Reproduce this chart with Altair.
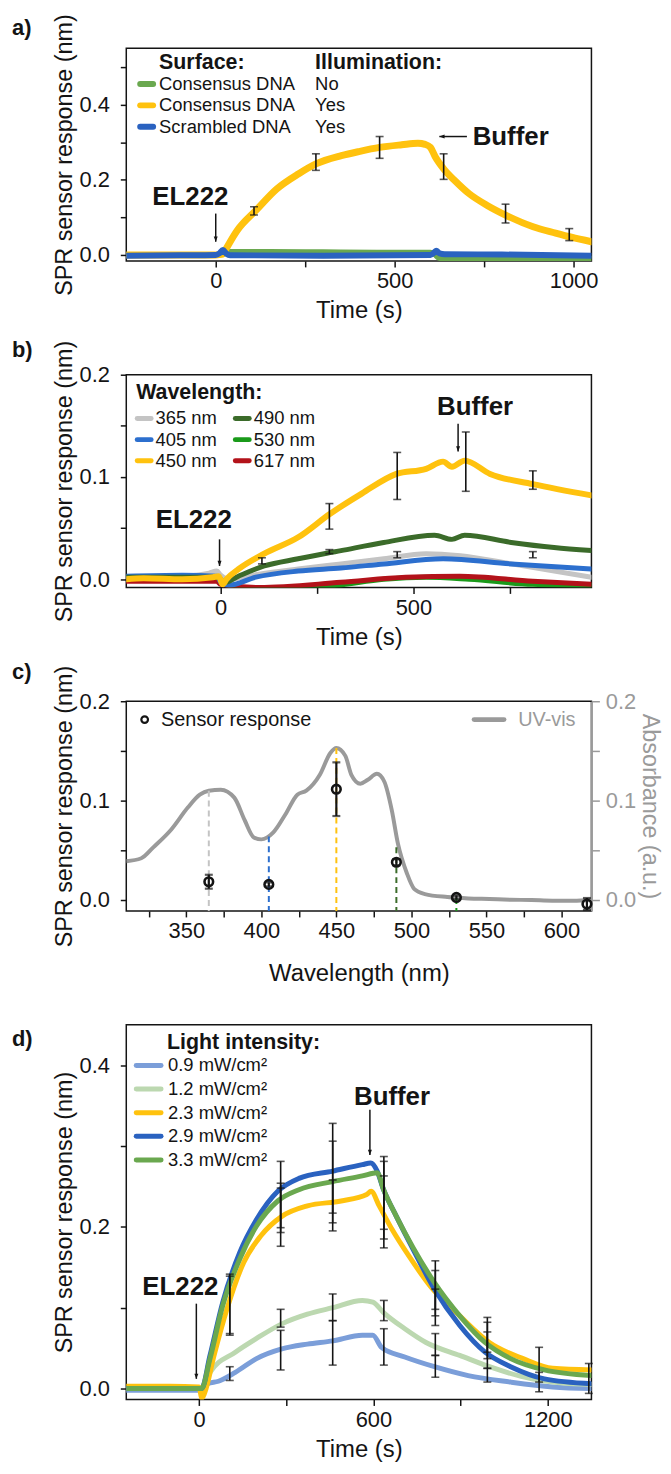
import altair as alt
import pandas as pd

FONT = "Liberation Sans"
INK = "#141414"
GREY = "#9a9a9a"

# ================= Panel a : surface / illumination =================
a_names = ["Consensus DNA", "Consensus DNA", "Scrambled DNA"]
a_illum = ["No", "Yes", "Yes"]
a_colors = ["#6aa84f", "#ffc20e", "#2a62c0"]

a_no_t = [-250, -100, 0, 20, 28, 150, 300, 450, 600, 612, 625, 800, 1050]
a_no_v = [0.0, 0.0, 0.0, 0.002, 0.008, 0.008, 0.007, 0.006, 0.006, 0.002, -0.008, -0.009, -0.01]

a_yes_t = [-250, -100, 0, 20, 25, 60, 113, 170, 232, 280, 351, 400, 458, 520, 565, 585,
           600, 613, 637, 670, 708, 760, 810, 887, 950, 994, 1050]
a_yes_v = [0.0, 0.0, 0.0, 0.002, 0.01, 0.065, 0.119, 0.175, 0.216, 0.242, 0.264, 0.275, 0.286,
           0.293, 0.297, 0.294, 0.286, 0.262, 0.229, 0.196, 0.163, 0.131, 0.106, 0.075, 0.058,
           0.047, 0.035]

a_scr_t = [-250, -100, 0, 10, 20, 30, 40, 300, 600, 608, 616, 626, 640, 800, 1050]
a_scr_v = [-0.002, -0.001, 0.0, 0.004, 0.013, 0.003, -0.001, -0.002, 0.0, 0.004, 0.011, 0.004,
           0.002, 0.001, -0.002]

a_err_t = [107, 280, 458, 637, 810, 988]
a_err_lo = [0.106, 0.225, 0.257, 0.201, 0.085, 0.038]
a_err_hi = [0.128, 0.269, 0.315, 0.269, 0.135, 0.070]

# ================= Panel b : wavelength =================
b_names = ["365 nm", "405 nm", "450 nm", "490 nm", "530 nm", "617 nm"]
b_colors = ["#c4c4c4", "#2c6fce", "#ffc20e", "#3b6b2a", "#1a9a1a", "#b3121a"]

b365_t = [-245, -100, -30, -10, 0, 20, 100, 201, 312, 423, 533, 622, 754, 962]
b365_v = [0.002, 0.003, 0.006, 0.008, 0.004, 0.0, 0.005, 0.010, 0.015, 0.020, 0.025, 0.023, 0.015, 0.002]
b405_t = [-245, -100, -10, 0, 20, 91, 201, 312, 423, 577, 754, 962]
b405_v = [0.003, 0.004, 0.003, -0.003, -0.006, 0.002, 0.008, 0.011, 0.015, 0.020, 0.015, 0.010]
b450_t = [-245, -200, -100, -20, -5, 5, 15, 46, 113, 201, 284, 367, 456, 533, 577, 600, 633, 699, 810, 962]
b450_v = [0.0, 0.001, 0.0, 0.002, 0.003, -0.005, 0.0, 0.0098, 0.025, 0.041, 0.064, 0.084, 0.103,
          0.108, 0.115, 0.110, 0.116, 0.103, 0.093, 0.082]
b490_t = [-245, -10, 0, 10, 46, 113, 201, 312, 423, 555, 600, 633, 754, 865, 962]
b490_v = [0.002, 0.002, 0.0, -0.003, 0.003, 0.013, 0.020, 0.028, 0.036, 0.043, 0.039, 0.043, 0.036, 0.031, 0.028]
b530_t = [-245, -10, 0, 100, 200, 300, 423, 533, 645, 810, 962]
b530_v = [0.0, 0.0, -0.004, -0.009, -0.009, -0.006, 0.0, 0.002, 0.0, -0.005, -0.006]
b617_t = [-245, -10, 0, 100, 312, 480, 620, 810, 962]
b617_v = [-0.002, -0.002, -0.005, -0.008, -0.003, 0.002, 0.003, -0.002, -0.005]

b_err_t = [282, 458, 636, 810, 107, 282, 458, 810]
b_err_lo = [0.049, 0.078, 0.086, 0.088, 0.015, 0.025, 0.021, 0.021]
b_err_hi = [0.074, 0.124, 0.144, 0.106, 0.021, 0.029, 0.027, 0.027]

# ================= Panel c : action spectrum =================
uv_wl = [310, 320, 328, 340, 351, 359, 365, 373, 382, 389, 395, 400, 408, 416, 424, 430, 439,
         446, 450, 456, 460, 466, 471, 477, 482, 487, 491, 497, 502, 509, 524, 538, 552, 566,
         580, 594, 608, 620]
uv_abs = [0.039, 0.042, 0.053, 0.071, 0.093, 0.106, 0.110, 0.111, 0.103, 0.080, 0.063, 0.061,
          0.068, 0.086, 0.106, 0.110, 0.126, 0.148, 0.153, 0.145, 0.126, 0.117, 0.121, 0.127,
          0.119, 0.090, 0.057, 0.027, 0.011, 0.006, 0.003, 0.0016, 0.001, 0.0003, 0.0, -0.0007,
          -0.0007, 0.0]
s_wl = [365, 405, 450, 490, 530, 617]
s_val = [0.0184, 0.0157, 0.1115, 0.038, 0.0026, -0.004]
s_err = [0.007, 0.002, 0.027, 0.003, 0.002, 0.006]
drop_top = [0.110, 0.064, 0.153, 0.053, 0.002, -0.002]
s_colors = ["#c4c4c4", "#2c6fce", "#ffc20e", "#3b6b2a", "#1a9a1a", "#c0141c"]

# ================= Panel d : light intensity =================
d_names = ["0.9 mW/cm²", "1.2 mW/cm²", "2.3 mW/cm²", "2.9 mW/cm²", "3.3 mW/cm²"]
d_colors = ["#7b9ed9", "#bcd8b0", "#ffc20e", "#2a62c0", "#6aa84f"]

d09_t = [-250, 0, 10, 30, 67, 125, 198, 285, 373, 460, 562, 598, 628, 708, 810, 926, 1072, 1217, 1350]
d09_v = [-0.002, -0.002, -0.002, 0.006, 0.009, 0.020, 0.037, 0.049, 0.055, 0.059, 0.066, 0.066,
         0.051, 0.039, 0.027, 0.016, 0.008, 0.002, 0.0]
d12_t = [-250, 0, 10, 38, 125, 198, 285, 373, 460, 562, 598, 635, 708, 781, 897, 999, 1145, 1217, 1350]
d12_v = [0.0, 0.0, 0.0, 0.020, 0.045, 0.062, 0.080, 0.092, 0.100, 0.109, 0.107, 0.094, 0.074,
         0.057, 0.041, 0.027, 0.012, 0.008, 0.005]
d23_t = [-250, -100, 0, 10, 20, 52, 96, 154, 213, 285, 373, 489, 577, 592, 620, 664, 722, 795,
         897, 999, 1115, 1217, 1350]
d23_v = [0.003, 0.003, 0.002, -0.012, -0.005, 0.041, 0.098, 0.156, 0.189, 0.213, 0.226, 0.232,
         0.240, 0.244, 0.226, 0.197, 0.164, 0.127, 0.090, 0.057, 0.037, 0.025, 0.023]
d29_t = [-250, -100, 0, 9, 38, 82, 140, 198, 271, 344, 460, 562, 591, 613, 635, 679, 737, 810,
         897, 984, 1072, 1188, 1350]
d29_v = [0.0, 0.0, 0.0, 0.0, 0.041, 0.107, 0.168, 0.209, 0.244, 0.260, 0.269, 0.277, 0.279,
         0.269, 0.246, 0.213, 0.172, 0.123, 0.078, 0.045, 0.027, 0.012, 0.006]
d33_t = [-250, 0, 9, 38, 82, 140, 198, 271, 344, 460, 562, 613, 635, 679, 737, 810, 897, 984,
         1072, 1188, 1350]
d33_v = [0.0, 0.0, 0.0, 0.037, 0.103, 0.160, 0.201, 0.232, 0.246, 0.256, 0.263, 0.267, 0.246,
         0.213, 0.174, 0.131, 0.090, 0.057, 0.037, 0.023, 0.016]

d_err_t = [106, 106, 106, 281, 281, 281, 281, 281, 460, 460, 460, 460, 460, 636, 636, 636, 636,
           636, 813, 813, 813, 813, 813, 992, 992, 992, 992, 1170, 1170, 1341]
d_err_lo = [0.068, 0.066, 0.010, 0.193, 0.199, 0.176, 0.076, 0.023, 0.205, 0.217, 0.195, 0.084,
            0.029, 0.185, 0.197, 0.174, 0.084, 0.029, 0.098, 0.090, 0.078, 0.041, 0.014, 0.045,
            0.037, 0.025, 0.008, -0.004, 0.008, -0.006]
d_err_hi = [0.1415, 0.139, 0.027, 0.281, 0.254, 0.248, 0.098, 0.072, 0.328, 0.306, 0.258, 0.117,
            0.084, 0.287, 0.281, 0.263, 0.109, 0.074, 0.158, 0.146, 0.123, 0.068, 0.041, 0.088,
            0.082, 0.070, 0.025, 0.051, 0.020, 0.031]

# annotations (data coordinates): text x, text y, arrow x/from/to
ann_a = {"el": (-71, 0.154), "el_arrow": (0, 0.11, 0.035), "buf": (718, 0.313), "buf_arrow": (702, 625, 0.315)}
ann_b = {"el": (-70, 0.0574), "el_arrow": (-3, 0.039, 0.013), "buf": (660, 0.168), "buf_arrow": (616, 0.152, 0.125)}
ann_d = {"el": (-64, 0.125), "el_arrow": (-9, 0.105, 0.012), "buf": (664, 0.36), "buf_arrow": (588, 0.345, 0.289)}

# axis domains
A_X, A_Y = [-250, 1050], [-0.016, 0.55]
B_X, B_Y = [-245, 962], [-0.008, 0.2]
C_X, C_Y = [310, 620], [-0.011, 0.2]
D_X, D_Y = [-250, 1350], [-0.0135, 0.45]

W = 468
DOWN = "M-0.38,-1L0,0L0.38,-1Z"
LEFT = "M1,-0.38L0,0L1,0.38Z"


def lab(step, fmt):
    return (f"abs(datum.value/{step} - round(datum.value/{step})) < 0.001 ? "
            f"format(datum.value, '{fmt}') : ''")


def mk_axis(values, step, fmt, **kw):
    return alt.Axis(values=values, labelExpr=lab(step, fmt), labelOverlap=False,
                    labelFlush=False, **kw)


def encoders(xdom, ydom, xax, yax, xtitle, ytitle):
    xs = alt.Scale(domain=xdom, nice=False, zero=False)
    ys = alt.Scale(domain=ydom, nice=False, zero=False)

    def X(f):
        return alt.X(f, type="quantitative", scale=xs, axis=xax, title=xtitle)

    def Y(f):
        return alt.Y(f, type="quantitative", scale=ys, axis=yax, title=ytitle)
    return X, Y


def line(t, v, color, width, X, Y):
    df = pd.DataFrame({"t": t, "v": v})
    return alt.Chart(df).mark_line(color=color, strokeWidth=width, interpolate="monotone",
                                   clip=True, strokeJoin="round", strokeCap="round").encode(
        x=X("t"), y=Y("v"))


def errbars(t, lo, hi, X, Y, color=INK, cap=8, width=1.6):
    df = pd.DataFrame({"t": t, "lo": lo, "hi": hi})
    base = alt.Chart(df)
    return [
        base.mark_rule(color=color, strokeWidth=width).encode(x=X("t"), y=Y("lo"), y2=alt.Y2("hi")),
        base.mark_tick(color=color, orient="horizontal", size=cap, thickness=width).encode(x=X("t"), y=Y("lo")),
        base.mark_tick(color=color, orient="horizontal", size=cap, thickness=width).encode(x=X("t"), y=Y("hi")),
    ]


def dtext(s, x, y, X, Y, size=26, weight="bold", align="center"):
    df = pd.DataFrame({"x": [x], "y": [y], "s": [s]})
    return alt.Chart(df).mark_text(font=FONT, fontSize=size, fontWeight=weight, align=align,
                                   baseline="middle", color=INK).encode(x=X("x"), y=Y("y"), text="s:N")


def varrow(x, y1, y2, X, Y):
    df = pd.DataFrame({"x": [x], "y1": [y1], "y2": [y2]})
    return [
        alt.Chart(df).mark_rule(color=INK, strokeWidth=1.5).encode(x=X("x"), y=Y("y1"), y2=alt.Y2("y2")),
        alt.Chart(df).mark_point(shape=DOWN, filled=True, color=INK, opacity=1, size=110,
                                 strokeWidth=0).encode(x=X("x"), y=Y("y2")),
    ]


def harrow(x1, x2, y, X, Y):
    df = pd.DataFrame({"x1": [x1], "x2": [x2], "y": [y]})
    return [
        alt.Chart(df).mark_rule(color=INK, strokeWidth=1.5).encode(x=X("x1"), x2=alt.X2("x2"), y=Y("y")),
        alt.Chart(df).mark_point(shape=LEFT, filled=True, color=INK, opacity=1, size=110,
                                 strokeWidth=0).encode(x=X("x2"), y=Y("y")),
    ]


def ptext(s, px, py, size, weight="normal", align="left", color=INK):
    return alt.Chart(pd.DataFrame({"s": [s]})).mark_text(
        font=FONT, fontSize=size, fontWeight=weight, align=align, baseline="middle", color=color
    ).encode(x=alt.value(px), y=alt.value(py), text="s:N")


def pseg(color, x1, x2, py, width):
    return alt.Chart(pd.DataFrame({"s": [0]})).mark_rule(
        color=color, strokeWidth=width, strokeCap="round").encode(
        x=alt.value(x1), x2=alt.value(x2), y=alt.value(py))


def annotations(ann, X, Y, buffer_left=False):
    ex, ey = ann["el"]
    bx, by = ann["buf"]
    out = [dtext("EL222", ex, ey, X, Y)]
    out += varrow(*ann["el_arrow"], X, Y)
    if buffer_left:
        out.append(dtext("Buffer", bx, by, X, Y, align="left"))
        out += harrow(*ann["buf_arrow"], X, Y)
    else:
        out.append(dtext("Buffer", bx, by, X, Y))
        out += varrow(*ann["buf_arrow"], X, Y)
    return out


YT = "SPR sensor response (nm)"

# ---------------- panel a ----------------
Xa, Ya = encoders(A_X, A_Y,
                  mk_axis([0, 250, 500, 750, 1000], 500, "d"),
                  mk_axis([0, 0.1, 0.2, 0.3, 0.4, 0.5], 0.2, ".1f"),
                  "Time (s)", YT)
la = [line(a_no_t, a_no_v, a_colors[0], 6, Xa, Ya),
      line(a_yes_t, a_yes_v, a_colors[1], 7, Xa, Ya),
      line(a_scr_t, a_scr_v, a_colors[2], 6, Xa, Ya)]
la += errbars(a_err_t, a_err_lo, a_err_hi, Xa, Ya)
la += annotations(ann_a, Xa, Ya, buffer_left=True)
la.append(ptext("Surface:", 33, 15, 21.5, "bold"))
la.append(ptext("Illumination:", 190, 15, 21.5, "bold"))
for i, (n, il, c) in enumerate(zip(a_names, a_illum, a_colors)):
    yy = 36 + 21.5 * i
    la.append(pseg(c, 14, 27, yy, 6))
    la.append(ptext(n, 33, yy, 18.5))
    la.append(ptext(il, 190, yy, 18.5))
la.append(ptext("a)", -115, -20, 22, "bold"))
panel_a = alt.layer(*la).properties(width=W, height=214)

# ---------------- panel b ----------------
Xb, Yb = encoders(B_X, B_Y,
                  mk_axis([0, 250, 500, 750], 500, "d"),
                  mk_axis([0, 0.05, 0.1, 0.15, 0.2], 0.1, ".1f"),
                  "Time (s)", YT)
b_series = {"365 nm": (b365_t, b365_v), "405 nm": (b405_t, b405_v), "450 nm": (b450_t, b450_v),
            "490 nm": (b490_t, b490_v), "530 nm": (b530_t, b530_v), "617 nm": (b617_t, b617_v)}
lb = []
for n in ["530 nm", "617 nm", "365 nm", "405 nm", "490 nm", "450 nm"]:
    t, v = b_series[n]
    lb.append(line(t, v, b_colors[b_names.index(n)], 6 if n == "450 nm" else 5, Xb, Yb))
lb += errbars(b_err_t, b_err_lo, b_err_hi, Xb, Yb)
lb += annotations(ann_b, Xb, Yb)
lb.append(ptext("Wavelength:", 10, 18, 21.5, "bold"))
for i, (n, c) in enumerate(zip(b_names, b_colors)):
    col, row = divmod(i, 3)
    yy = 44 + 21.3 * row
    x0 = 11 + 98.7 * col
    lb.append(pseg(c, x0, x0 + 14, yy, 5))
    lb.append(ptext(n, x0 + 18.5, yy, 18.5))
lb.append(ptext("b)", -115, -25, 22, "bold"))
panel_b = alt.layer(*lb).properties(width=W, height=214)

# ---------------- panel c ----------------
c_xax = mk_axis(list(range(325, 601, 25)), 50, "d", titlePadding=20)
Xc, Yc = encoders(C_X, C_Y, c_xax,
                  mk_axis([0, 0.05, 0.1, 0.15, 0.2], 0.1, ".1f", orient="left"),
                  "Wavelength (nm)", YT)
Xr, Yr = encoders(C_X, C_Y, c_xax,
                  mk_axis([0, 0.05, 0.1, 0.15, 0.2], 0.1, ".1f", orient="right",
                          labelColor=GREY, tickColor=GREY, titleColor=GREY, domain=True,
                          domainColor=GREY, domainWidth=2, tickSize=8, labelPadding=6,
                          titlePadding=2),
                  "Wavelength (nm)", "Absorbance (a.u.)")
uv_df = pd.DataFrame({"wl": uv_wl, "abs": uv_abs})
drop_df = pd.DataFrame({"wl": s_wl, "top": drop_top, "col": [str(w) for w in s_wl]})
right = alt.layer(
    alt.Chart(uv_df).mark_line(color=GREY, strokeWidth=4, interpolate="monotone", clip=True).encode(
        x=Xr("wl"), y=Yr("abs")),
    alt.Chart(drop_df).mark_rule(strokeWidth=2, strokeDash=[6, 4]).encode(
        x=Xr("wl"), y=Yr("top"), y2=alt.datum(C_Y[0]),
        color=alt.Color("col:N", scale=alt.Scale(domain=[str(w) for w in s_wl], range=s_colors),
                        legend=None)),
)
s_df = pd.DataFrame({"wl": s_wl, "v": s_val, "lo": [v - e for v, e in zip(s_val, s_err)],
                     "hi": [v + e for v, e in zip(s_val, s_err)]})
lc = errbars(s_wl, list(s_df["lo"]), list(s_df["hi"]), Xc, Yc, width=2.2)
lc.append(alt.Chart(s_df).mark_point(shape="circle", filled=False, color=INK, size=75,
                                     strokeWidth=2.6, opacity=1).encode(x=Xc("wl"), y=Yc("v")))
lc.append(alt.Chart(pd.DataFrame({"s": [0]})).mark_point(
    shape="circle", filled=False, color=INK, size=45, strokeWidth=2.2, opacity=1).encode(
    x=alt.value(18.5), y=alt.value(18.5)))
lc.append(ptext("Sensor response", 35, 18.5, 20))
lc.append(pseg(GREY, 350, 380, 18.5, 5))
lc.append(ptext("UV-vis", 452, 18.5, 20, align="right", color=GREY))
lc.append(ptext("c)", -115, -29, 22, "bold"))
left = alt.layer(*lc)
panel_c = alt.layer(right, left).resolve_scale(y="independent").properties(width=W, height=211)

# ---------------- panel d ----------------
Xd, Yd = encoders(D_X, D_Y,
                  mk_axis([0, 300, 600, 900, 1200], 600, "d"),
                  mk_axis([0, 0.1, 0.2, 0.3, 0.4], 0.2, ".1f"),
                  "Time (s)", YT)
d_series = [(d09_t, d09_v), (d12_t, d12_v), (d23_t, d23_v), (d29_t, d29_v), (d33_t, d33_v)]
ld = [line(t, v, c, 5, Xd, Yd) for (t, v), c in zip(d_series, d_colors)]
ld += errbars(d_err_t, d_err_lo, d_err_hi, Xd, Yd)
ld += annotations(ann_d, Xd, Yd)
ld.append(ptext("Light intensity:", 41, 18, 21.5, "bold"))
for i, (n, c) in enumerate(zip(d_names, d_colors)):
    yy = 41 + 23.75 * i
    ld.append(pseg(c, 10, 35, yy, 5))
    ld.append(ptext(n, 42, yy, 18.5))
ld.append(ptext("d)", -115, 14, 22, "bold"))
panel_d = alt.layer(*ld).properties(width=W, height=377)

chart = alt.vconcat(panel_a, panel_b, panel_c, panel_d, spacing=114.5, bounds="flush").properties(
    padding={"left": 3, "top": 0, "right": 0, "bottom": 2}
).configure_view(stroke=INK, strokeWidth=1.5).configure_axis(
    labelFont=FONT, labelFontSize=22, labelColor=INK, titleFont=FONT,
    titleFontWeight="normal", titleColor=INK, tickColor=INK, tickSize=6, tickWidth=1.5,
    domain=False, grid=False
).configure_axisX(labelPadding=4, titlePadding=7, titleFontSize=24).configure_axisY(
    labelPadding=11, titlePadding=3, titleFontSize=23.5)

chart.save("out.html", embed_options={"renderer": "svg", "actions": False})
